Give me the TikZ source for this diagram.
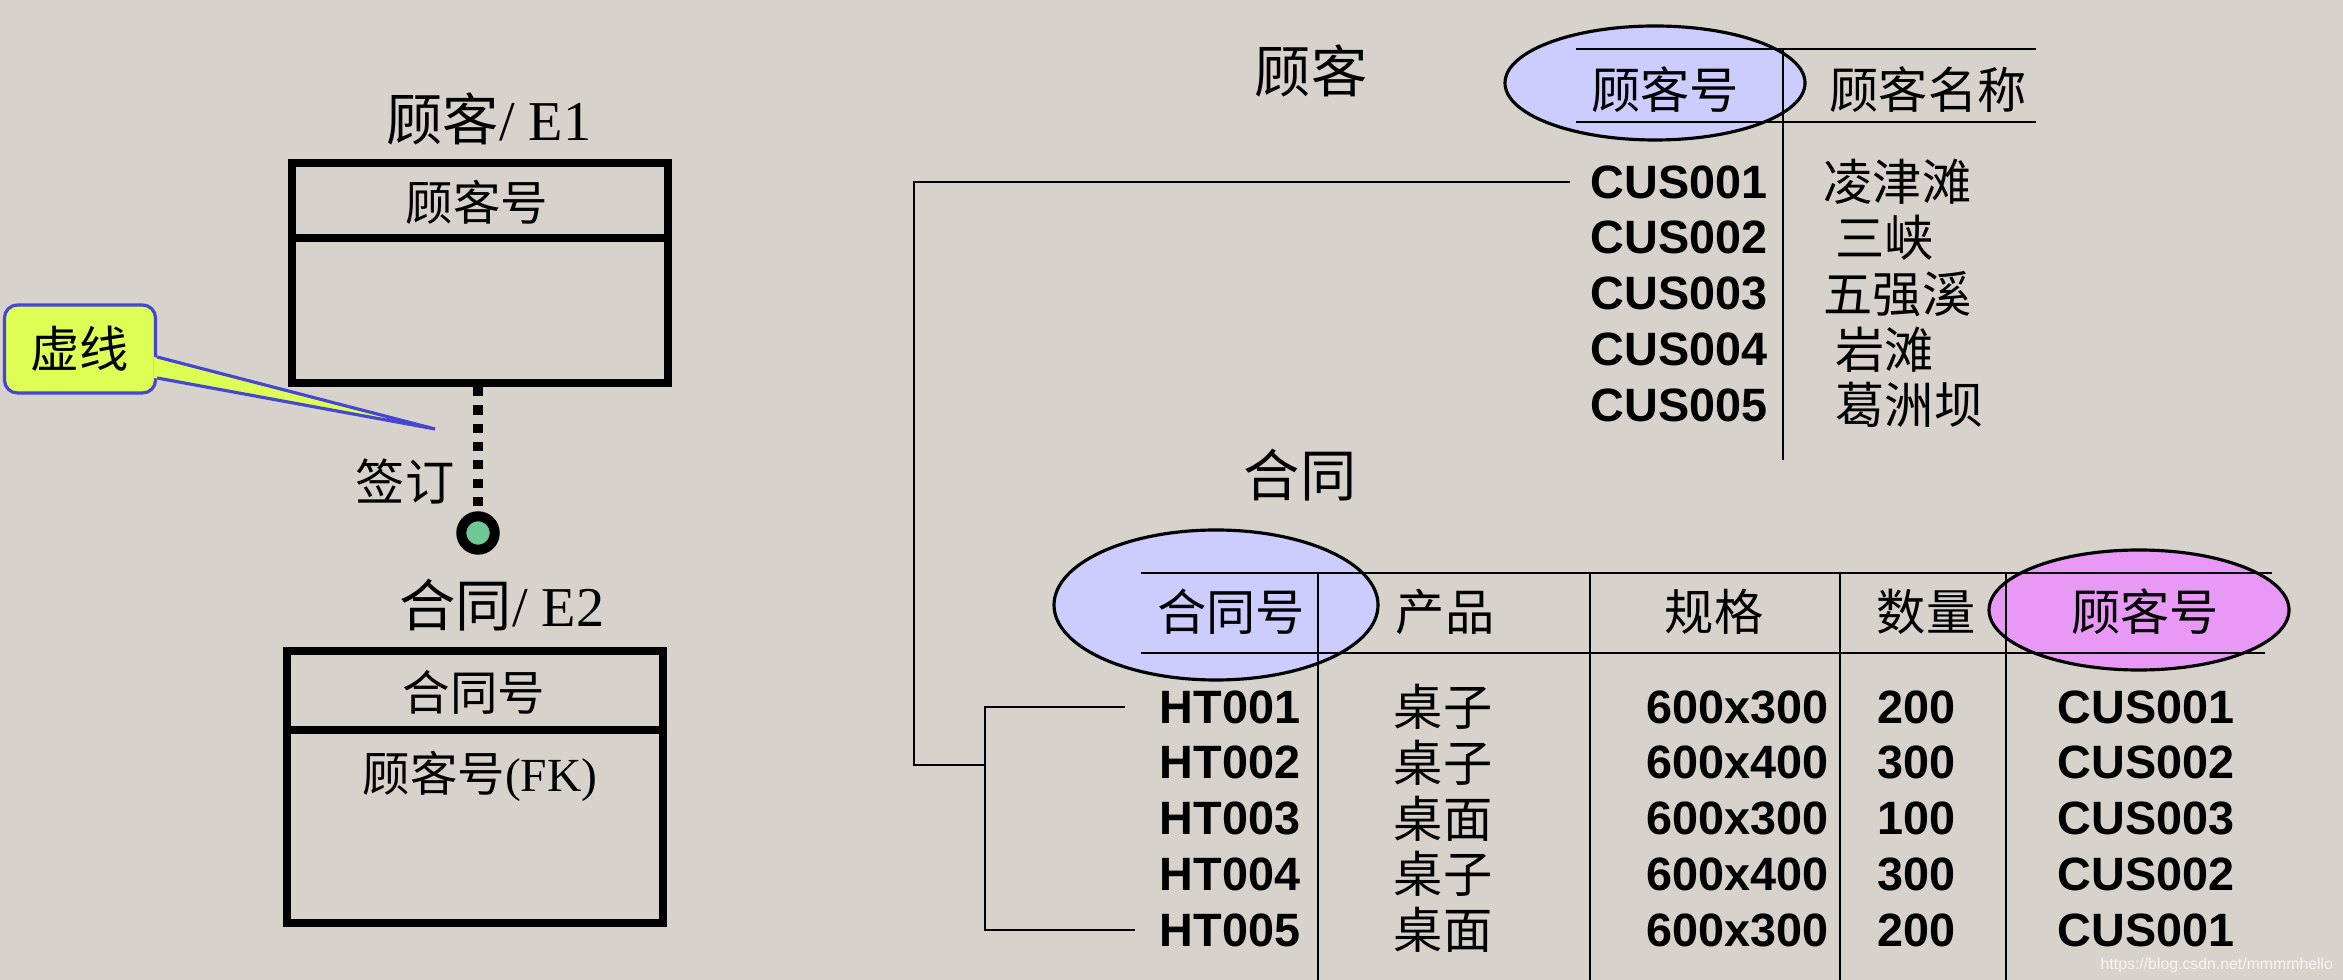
\documentclass[tikz,border=0pt]{standalone}
\usepackage{fontspec}
\setmainfont{Liberation Serif}
\newfontfamily\cjk{Noto Sans CJK SC}
\newfontfamily\dataf{Liberation Sans}
\usetikzlibrary{calc}
\definecolor{paper}{RGB}{216,210,205}
\definecolor{keyblue}{RGB}{204,204,255}
\definecolor{keypink}{RGB}{232,153,245}
\definecolor{notelime}{RGB}{221,255,85}
\definecolor{noteblue}{RGB}{70,70,210}
\definecolor{dotgreen}{RGB}{110,200,150}
\tikzset{
  cn/.style={font=\cjk\fontsize{14}{16}\selectfont},
  cntitle/.style={font=\cjk\fontsize{16}{18}\selectfont},
  enttitle/.style={font=\fontsize{16}{18}\selectfont},
  entfield/.style={font=\fontsize{13.5}{16}\selectfont},
  rowtext/.style={font=\dataf\bfseries\fontsize{13.3}{15}\selectfont},
  entbox/.style={draw, line width=2.3pt, minimum width=3.76cm},
  tabline/.style={line width=0.8pt},
  link/.style={line width=0.8pt},
  keyring/.style={draw=black, line width=0.9pt},
  dotline/.style={line width=2.6pt, dash pattern=on 2.6pt off 2.6pt},
  notebox/.style={draw=noteblue, fill=notelime, line width=0.9pt, rounded corners=3.7pt,
    minimum width=1.51cm, minimum height=0.88cm}
}
\begin{document}
\begin{tikzpicture}[x=0.01cm, y=0.01cm]
\tikzstyle{every node}+=[inner sep=0pt]
\useasboundingbox (0,0) rectangle (2343,-980);
\fill [paper] (0,0) rectangle (2343,-980);
% E1 / E2 entities
\node [enttitle] (e1name) at (489,-119) {{\cjk 顾客}/ E1};
\node [entbox, minimum height=2.2cm] (e1) at (480,-273) {};
\draw [line width=2.3pt] (e1.west |- 0,-238) -- (e1.east |- 0,-238);
\node [entfield] (e1key) at (477,-202) {{\cjk 顾客号}};
\node [enttitle] (e2name) at (502,-605) {{\cjk 合同}/ E2};
\node [entbox, minimum height=2.71cm] (e2) at (475,-787) {};
\draw [line width=2.3pt] (e2.west |- 0,-730) -- (e2.east |- 0,-730);
\node [entfield] (e2key) at (474,-692) {{\cjk 合同号}};
\node [entfield] (e2fk) at (480,-776) {{\cjk 顾客号}(FK)};
\node [circle, draw, line width=2.85pt, fill=dotgreen, minimum size=0.334cm] (ring) at (478,-533) {};
\draw [dotline] (ring.north |- e1.south) -- (ring.north);
\node [cn] (sign) at (405,-482) {签订};
% callout
\node [notebox, cn] (note) at (80,-349) {虚线};
\coordinate (tip) at (435,-429);
\fill [notelime] ($(note.east)+(-3,-8)$) -- (tip) -- ($(note.east)+(-3,-29)$) -- cycle;
\draw [noteblue, line width=0.9pt] ($(note.east)+(0,-8)$) -- (tip) -- ($(note.east)+(0,-29)$);
% customer table
\node [cntitle] (custname) at (1311,-71) {顾客};
\draw [keyring, fill=keyblue] (1655,-83) ellipse (150 and 57);
\draw [tabline] (1576,-49) -- (2036,-49);
\draw [tabline] (1576,-122) -- (2036,-122);
\draw [tabline] (1783,-49) -- (1783,-460);
\node [cn] (custkey) at (1665,-90) {顾客号};
\node [cn] (custcol) at (1928,-90) {顾客名称};
\foreach \cid/\cname/\nx [count=\i] in {CUS001/凌津滩/1823, CUS002/三峡/1835, CUS003/五强溪/1823, CUS004/岩滩/1835, CUS005/葛洲坝/1835}{
  \node [rowtext, anchor=east] (cus\i) at (1768,{-182-55.8*(\i-1)}) {\cid};
  \node [cn, anchor=west] (cname\i) at (\nx,{-182-55.8*(\i-1)}) {\cname};
}
% contract table
\node [cntitle] (ordname) at (1300,-475) {合同};
\draw [keyring, fill=keyblue] (1216,-605) ellipse (162 and 75);
\draw [keyring, fill=keypink] (2139,-610) ellipse (150 and 60);
\draw [tabline] (1141,-573) -- (2272,-573);
\draw [tabline] (1141,-653) -- (2265,-653);
\foreach \vx in {1318,1590,1840,2006}
  \draw [tabline] (\vx,-573) -- (\vx,-980);
\node [cn] (ordkey) at (1231,-612) {合同号};
\node [cn] (ordprod) at (1445,-612) {产品};
\node [cn] (ordsize) at (1714,-612) {规格};
\node [cn] (ordamt) at (1926,-612) {数量};
\node [cn] (ordfk) at (2145,-612) {顾客号};
\foreach \hid/\pname/\sz/\amt/\cid [count=\i] in {HT001/桌子/600x300/200/CUS001, HT002/桌子/600x400/300/CUS002, HT003/桌面/600x300/100/CUS003, HT004/桌子/600x400/300/CUS002, HT005/桌面/600x300/200/CUS001}{
  \pgfmathsetmacro{\ry}{-707-55.75*(\i-1)}
  \node [rowtext, anchor=west] (ht\i) at (1159,\ry) {\hid};
  \node [cn] (prod\i) at (1443,\ry) {\pname};
  \node [rowtext, anchor=east] (size\i) at (1829,\ry) {\sz};
  \node [rowtext, anchor=west] (amt\i) at (1877,\ry) {\amt};
  \node [rowtext] (ref\i) at (2146,\ry) {\cid};
}
% links
\coordinate (elbow) at (914,-765);
\coordinate (jn) at (985,-765);
\draw [link] ($(cus1.west)+(-20,0)$) -| (elbow) -- (jn);
\draw [link] ($(ht1.west)+(-34,0)$) -| (jn) |- ($(ht5.west)+(-24,0)$);
\node [anchor=west, text=white!92!gray, font=\dataf\fontsize{4.5}{5}\selectfont] (mark) at (2100,-965) {https://blog.csdn.net/mmmmhello};
\end{tikzpicture}
\end{document}
